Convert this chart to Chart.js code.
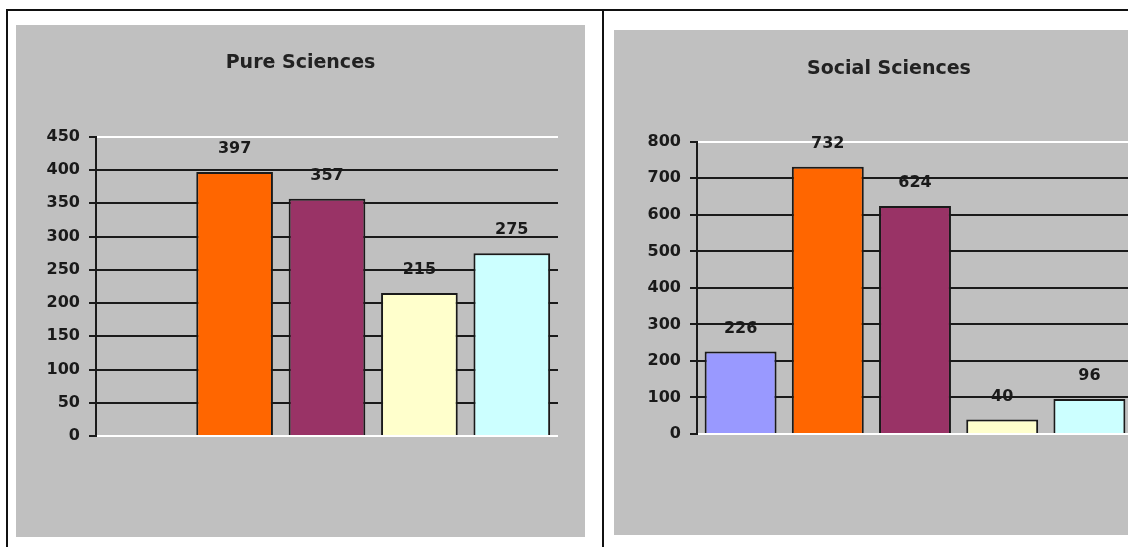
<!DOCTYPE html>
<html>
<head>
<meta charset="utf-8">
<script src="https://cdn.jsdelivr.net/npm/chart.js@4/dist/chart.umd.min.js"></script>
<style>
  html, body { margin: 0; padding: 0; background: #fff; overflow: hidden; width: 1128px; height: 547px; }
  #frameTop { position: absolute; left: 6px; top: 9px; width: 1122px; height: 2px; background: #111; }
  #frameLeft { position: absolute; left: 6px; top: 9px; width: 2px; height: 538px; background: #111; }
  #divider { position: absolute; left: 602px; top: 9px; width: 2px; height: 538px; background: #111; }
  .panel { position: absolute; background: #C0C0C0; }
  #p1 { left: 16px; top: 25px; width: 569px; height: 512px; }
  #p2 { left: 614px; top: 30px; width: 550px; height: 505px; }
  canvas { display: block; }
</style>
</head>
<body>
<div id="frameTop"></div>
<div id="frameLeft"></div>
<div id="divider"></div>
<div class="panel" id="p1"><canvas id="c1" width="569" height="512"></canvas></div>
<div class="panel" id="p2"><canvas id="c2" width="550" height="505"></canvas></div>
<script>
// ---- data ----
const categories = ['Group 1', 'Group 2', 'Group 3', 'Group 4', 'Group 5'];
const barColors = ['#9999FF', '#FF6600', '#993366', '#FFFFCC', '#CCFFFF'];
const pureTitle = 'Pure Sciences';
const pureValues = [null, 397, 357, 215, 275];
const pureMax = 450;
const pureStep = 50;
const socialTitle = 'Social Sciences';
const socialValues = [226, 732, 624, 40, 96];
const socialMax = 800;
const socialStep = 100;

const FONT = "'DejaVu Sans', Verdana, sans-serif";

const valueLabels = {
  id: 'valueLabels',
  afterDatasetsDraw(chart) {
    const ctx = chart.ctx;
    ctx.save();
    ctx.font = 'bold 16px ' + FONT;
    ctx.fillStyle = '#1a1a1a';
    ctx.textAlign = 'center';
    ctx.textBaseline = 'middle';
    chart.data.datasets.forEach((ds, di) => {
      chart.getDatasetMeta(di).data.forEach((bar, i) => {
        const v = ds.data[i];
        if (v === null || v === undefined) return;
        ctx.fillText(String(v), bar.x, bar.y - 23);
      });
    });
    ctx.restore();
  }
};

function makeChart(id, title, values, max, step, opts) {
  return new Chart(document.getElementById(id), {
    type: 'bar',
    data: {
      labels: categories,
      datasets: [{
        data: values,
        backgroundColor: barColors,
        borderColor: '#1a1a1a',
        borderWidth: 2,
        categoryPercentage: 1,
        barPercentage: opts.barPct
      }]
    },
    options: {
      responsive: false,
      animation: false,
      events: [],
      layout: { padding: { left: 0, right: 0, top: 0, bottom: opts.padBottom } },
      plugins: {
        legend: { display: false },
        tooltip: { enabled: false },
        title: {
          display: true,
          text: title,
          color: '#222',
          font: { family: FONT, size: 19, weight: 'bold', lineHeight: 1.2 },
          padding: { top: opts.titleTop, bottom: opts.titleBottom }
        }
      },
      scales: {
        x: { display: false },
        y: {
          min: 0,
          max: max,
          afterFit(scale) { scale.width = opts.axisWidth; },
          ticks: {
            stepSize: step,
            padding: 9,
            color: '#1a1a1a',
            font: { family: FONT, size: 16, weight: 'bold' }
          },
          grid: {
            lineWidth: 2,
            tickLength: 7,
            tickColor: '#1a1a1a',
            color: (c) => (c.tick && (c.tick.value === 0 || c.tick.value === max)) ? '#ffffff' : '#1a1a1a'
          },
          border: { display: true, color: '#1a1a1a', width: 2 }
        },
        spacer: {
          type: 'linear',
          position: 'right',
          display: true,
          afterFit(scale) { scale.width = opts.padRight; },
          ticks: { display: false },
          grid: { display: false, drawTicks: false },
          border: { display: false }
        }
      }
    },
    plugins: [valueLabels]
  });
}

makeChart('c1', pureTitle, pureValues, pureMax, pureStep, {
  barPct: 0.83, padRight: 27, padBottom: 101, titleTop: 27, titleBottom: 62, axisWidth: 80
});
makeChart('c2', socialTitle, socialValues, socialMax, socialStep, {
  barPct: 0.825, padRight: 31, padBottom: 101, titleTop: 28, titleBottom: 61, axisWidth: 83
});
</script>
</body>
</html>
